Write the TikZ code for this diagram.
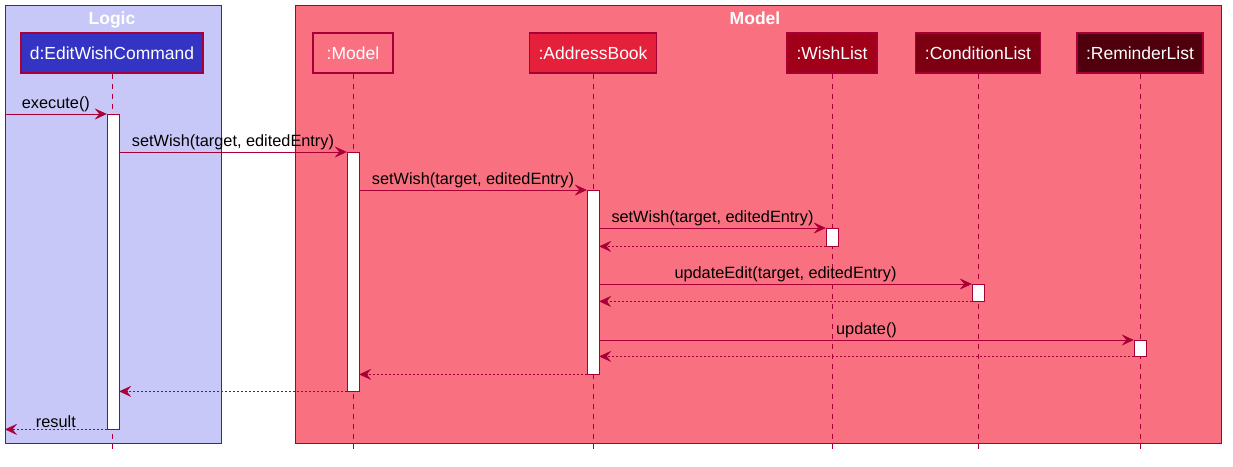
\documentclass[tikz,border=0pt]{standalone}
\usepackage{fontspec}
\setmainfont{Liberation Sans}
\usetikzlibrary{arrows.meta}

\definecolor{pumlred}{HTML}{A80036}
\definecolor{logicbg}{HTML}{C8C8F8}
\definecolor{modelbg}{HTML}{F97181}
\definecolor{cmdfill}{HTML}{3434C4}
\definecolor{bookfill}{HTML}{E5203A}
\definecolor{wishfill}{HTML}{A00018}
\definecolor{condfill}{HTML}{7C0012}
\definecolor{remindfill}{HTML}{50000C}

\begin{document}
\begin{tikzpicture}[x=1pt,y=-1pt,
   party/.style={draw=pumlred,line width=1.5pt,text=white,minimum height=40pt,inner sep=0pt,
     font=\fontsize{17.5}{19}\selectfont},
   bar/.style={draw=pumlred,fill=white,minimum width=12pt,inner sep=0pt,anchor=north},
   lifeline/.style={draw=pumlred,dash pattern=on 5pt off 5pt},
   call/.style={draw=pumlred,-{Stealth[length=12pt,width=11pt,inset=4.5pt]}},
   reply/.style={call,dash pattern=on 2pt off 2pt},
   msg/.style={above,inner sep=1.5pt,text=black,font=\fontsize{16.3}{18}\selectfont},
   title/.style={text=white,anchor=base,font=\fontsize{17.5}{19}\selectfont\bfseries}]
   \useasboundingbox (0,0) rectangle (1233,466);
   % boxes
   \draw[pumlred,fill=logicbg] (5,5) rectangle (221,443);
   \draw[pumlred,fill=modelbg] (295,5) rectangle (1221,443);
   \node (logic) at (112,24) [title] {Logic};
   \node (modelbox) at (755,24) [title] {Model};
   % participants
   \node (cmd) at (112,53) [party,fill=cmdfill,minimum width=182pt] {d:EditWishCommand};
   \node (model) at (353,53) [party,fill=modelbg,minimum width=80pt] {:Model};
   \node (book) at (593,53) [party,fill=bookfill,minimum width=127pt] {:AddressBook};
   \node (wish) at (832,53) [party,fill=wishfill,minimum width=90pt] {:WishList};
   \node (cond) at (978,53) [party,fill=condfill,minimum width=125pt] {:ConditionList};
   \node (remind) at (1140,53) [party,fill=remindfill,minimum width=126pt] {:ReminderList};
   \foreach \p in {cmd,model,book,wish,cond,remind}
     \draw[lifeline] (\p.south) -- (\p |- 0,453);
   % activations
   \node (actCmd) at (113,114) [bar,minimum height=315pt] {};
   \node (actModel) at (353,152) [bar,minimum height=239pt] {};
   \node (actBook) at (593,190) [bar,minimum height=184pt] {};
   \node (actWish) at (832,228) [bar,minimum height=18pt] {};
   \node (actCond) at (978,284) [bar,minimum height=17pt] {};
   \node (actRemind) at (1140,340) [bar,minimum height=16pt] {};
   \coordinate (edge) at (5,114);
   % messages
   \draw[call] (edge) -- (actCmd.north west) node[msg,midway] {execute()};
   \draw[call] (actCmd.east |- actModel.north) -- (actModel.north west) node[msg,midway] {setWish(target, editedEntry)};
   \draw[call] (actModel.east |- actBook.north) -- (actBook.north west) node[msg,midway] {setWish(target, editedEntry)};
   \draw[call] (actBook.east |- actWish.north) -- (actWish.north west) node[msg,midway] {setWish(target, editedEntry)};
   \draw[reply] (actWish.south west) -- (actBook.east |- actWish.south);
   \draw[call] (actBook.east |- actCond.north) -- (actCond.north west) node[msg,midway] {updateEdit(target, editedEntry)};
   \draw[reply] (actCond.south west) -- (actBook.east |- actCond.south);
   \draw[call] (actBook.east |- actRemind.north) -- (actRemind.north west) node[msg,midway] {update()};
   \draw[reply] (actRemind.south west) -- (actBook.east |- actRemind.south);
   \draw[reply] (actBook.south west) -- (actModel.east |- actBook.south);
   \draw[reply] (actModel.south west) -- (actCmd.east |- actModel.south);
   \draw[reply] (actCmd.south west) -- (edge |- actCmd.south) node[msg,midway] {result};
\end{tikzpicture}
\end{document}
